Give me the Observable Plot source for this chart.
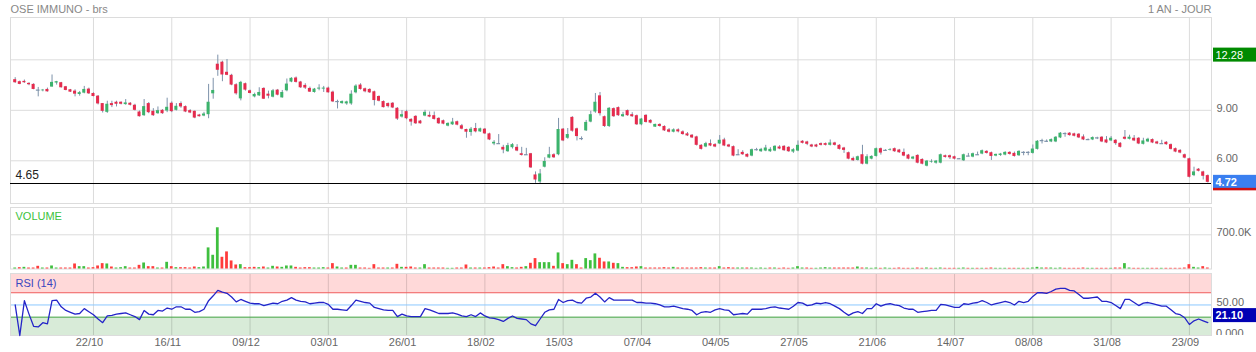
<!DOCTYPE html>
<html><head><meta charset="utf-8">
<script src="https://cdn.jsdelivr.net/npm/d3@7"></script>
<script src="https://cdn.jsdelivr.net/npm/@observablehq/plot@0.6"></script>
<style>
body{margin:0;background:#fff;}
#wrap{position:relative;width:1256px;height:352px;overflow:hidden;background:#fff;}
#wrap svg{position:absolute;left:0;}
</style></head><body><div id="wrap"></div>
<script>
// ---- data ----
const open = [10.82,10.70,10.72,10.60,10.54,10.20,10.16,10.24,10.38,10.62,10.64,10.40,10.22,10.14,9.94,10.02,10.26,10.00,9.84,9.40,8.88,9.40,9.48,9.48,9.34,9.42,9.30,8.90,8.68,9.40,8.94,8.80,9.00,8.96,9.42,9.00,9.40,9.22,8.98,8.94,8.72,8.66,8.74,9.98,11.74,11.86,11.26,11.08,10.52,9.68,10.58,10.16,9.80,9.86,10.30,9.96,9.78,10.20,9.74,10.16,10.68,10.92,10.68,10.48,10.30,10.06,10.26,10.26,10.32,10.08,9.50,9.40,9.38,9.38,10.04,10.50,10.28,10.24,10.10,9.82,9.52,9.40,9.42,9.12,8.60,8.92,8.46,8.64,8.36,8.66,8.70,8.68,8.52,8.38,8.06,8.14,8.32,8.08,7.86,7.68,7.92,7.72,7.88,7.60,7.00,7.02,6.80,6.54,6.78,6.80,6.42,6.36,6.42,5.16,4.74,5.62,6.16,6.36,6.36,7.88,7.34,8.58,7.90,7.30,7.78,8.30,8.90,9.86,8.62,8.04,9.10,9.16,8.62,8.98,8.74,8.68,8.14,8.70,8.40,8.00,8.16,8.04,7.84,7.70,7.84,7.72,7.60,7.52,7.42,6.92,6.82,7.02,6.96,7.00,7.24,6.94,6.84,6.36,6.50,6.38,6.28,6.66,6.54,6.58,6.54,6.58,6.82,6.86,6.80,6.52,6.58,7.16,7.12,6.94,6.94,7.02,7.02,6.92,7.06,6.92,6.76,6.48,6.14,6.02,6.36,5.80,6.10,6.26,6.72,6.60,6.62,6.72,6.64,6.50,6.34,6.10,6.32,6.08,5.68,5.92,5.86,5.86,6.30,6.30,6.24,6.12,6.00,6.28,6.22,6.36,6.40,6.56,6.48,6.28,6.32,6.34,6.50,6.44,6.30,6.50,6.50,6.44,6.68,7.20,7.16,7.12,7.12,7.36,7.62,7.64,7.60,7.58,7.42,7.26,7.24,7.36,7.40,7.24,7.18,7.22,7.04,7.40,7.28,7.34,7.34,6.98,7.12,7.26,7.12,7.02,7.10,6.96,6.72,6.62,6.36,6.12,5.12,5.50,5.34,5.12];
const high = [10.94,10.74,10.80,10.64,10.58,10.36,10.24,10.32,11.10,10.72,10.66,10.42,10.24,10.22,10.12,10.42,10.32,10.04,9.88,9.40,9.54,9.54,9.54,9.50,9.64,9.46,9.36,8.96,9.64,9.46,9.10,9.20,9.04,9.72,9.50,9.40,9.50,9.26,9.04,8.96,8.76,8.88,10.54,10.90,12.28,11.92,12.02,11.14,10.58,10.72,10.62,10.20,10.02,10.34,10.34,10.14,10.24,10.24,10.18,10.86,10.94,10.98,10.72,10.58,10.38,10.30,10.52,10.42,10.38,10.14,9.60,9.56,9.54,10.16,10.52,10.58,10.32,10.28,10.14,9.86,9.56,9.44,9.46,9.16,8.98,9.00,8.50,8.68,8.40,9.00,8.90,8.90,8.56,8.42,8.26,8.52,8.36,8.16,7.88,7.98,8.22,7.94,7.92,7.64,7.20,7.56,6.92,7.04,7.02,6.96,6.80,6.74,6.44,5.34,5.48,6.18,6.80,6.42,8.52,7.92,7.92,8.62,7.94,7.42,8.40,8.94,10.00,10.06,8.66,9.16,9.14,9.20,8.88,9.02,8.86,8.72,8.52,8.74,8.44,8.18,8.20,8.08,7.92,7.90,7.90,7.78,7.68,7.56,7.46,6.96,7.10,7.24,7.02,7.50,7.34,6.98,6.88,6.66,6.60,6.42,6.70,6.74,6.74,6.92,6.78,6.90,6.90,6.90,6.84,6.72,7.18,7.20,7.16,6.98,6.98,7.06,7.06,7.24,7.10,6.96,6.80,6.52,6.22,6.28,6.92,6.36,6.30,6.76,6.76,6.66,6.72,6.76,6.68,6.70,6.38,6.26,6.36,6.12,6.02,6.06,6.02,6.40,6.34,6.34,6.28,6.14,6.40,6.44,6.46,6.52,6.64,6.60,6.52,6.40,6.44,6.54,6.54,6.52,6.60,6.54,6.54,6.94,7.20,7.28,7.24,7.30,7.44,7.68,7.66,7.68,7.64,7.62,7.54,7.30,7.42,7.40,7.44,7.44,7.44,7.26,7.08,7.80,7.52,7.50,7.38,7.34,7.34,7.30,7.16,7.22,7.14,7.00,6.76,6.66,6.40,6.16,5.62,5.54,5.38,5.16];
const low = [10.60,10.52,10.60,10.46,10.22,9.80,10.10,10.08,10.38,10.50,10.32,10.16,10.06,9.80,9.84,9.98,9.94,9.80,9.32,8.84,8.82,9.16,9.20,9.32,9.30,9.26,8.96,8.60,8.64,8.80,8.64,8.76,8.76,8.86,8.86,8.96,9.12,8.86,8.80,8.50,8.60,8.62,8.50,9.66,11.02,10.70,11.06,10.46,9.90,9.56,10.14,9.98,9.74,9.82,9.64,9.68,9.74,9.86,9.72,10.10,10.64,10.62,10.30,10.24,10.06,10.02,10.16,10.06,10.02,9.46,9.08,9.36,9.30,9.30,9.98,10.20,10.04,10.00,9.26,9.50,9.14,9.14,9.10,8.40,8.54,8.44,8.06,8.16,8.18,8.62,8.56,8.42,8.16,8.14,8.02,8.10,8.08,7.84,7.34,7.46,7.66,7.68,7.56,7.20,6.90,6.98,6.42,6.50,6.70,6.54,6.28,6.32,5.54,4.66,4.65,5.58,6.12,6.14,6.30,7.14,7.28,7.70,7.18,7.20,7.74,8.26,8.82,8.66,7.98,7.98,8.58,8.64,8.58,8.64,8.58,8.10,8.08,8.24,8.20,7.98,8.00,7.74,7.66,7.66,7.66,7.52,7.44,7.32,6.88,6.64,6.78,6.84,6.78,6.96,6.84,6.78,6.24,6.32,6.32,6.18,6.24,6.58,6.50,6.54,6.50,6.54,6.66,6.56,6.50,6.44,6.54,7.00,6.90,6.78,6.78,6.88,6.88,6.88,6.88,6.64,6.44,6.06,5.96,5.98,5.76,5.76,6.06,6.22,6.34,6.56,6.58,6.50,6.44,6.24,6.06,6.06,5.82,5.76,5.64,5.86,5.80,5.82,6.16,6.08,6.06,6.08,5.96,6.24,6.18,6.32,6.36,6.40,6.02,6.24,6.26,6.30,6.34,6.22,6.26,6.30,6.30,6.40,6.64,7.00,7.10,7.08,7.08,7.32,7.40,7.46,7.42,7.32,7.20,7.20,7.20,7.26,7.08,7.02,7.14,6.92,6.76,7.24,7.24,7.14,6.96,6.94,7.08,7.02,6.96,6.98,6.92,6.64,6.48,6.42,6.12,4.98,5.06,5.34,4.86,4.68];
const close = [10.64,10.54,10.64,10.52,10.24,10.20,10.20,10.10,10.66,10.70,10.34,10.18,10.08,9.96,10.05,10.24,9.98,9.82,9.38,8.94,9.36,9.28,9.36,9.36,9.44,9.30,9.00,8.62,9.22,8.86,8.68,8.98,8.80,9.18,8.92,9.24,9.20,8.90,8.84,8.54,8.62,8.78,9.48,10.18,11.38,11.10,11.08,10.50,9.98,10.66,10.20,10.00,9.94,10.06,9.66,9.84,10.16,9.90,10.06,10.56,10.90,10.66,10.34,10.32,10.08,10.26,10.32,10.32,10.04,9.50,9.52,9.52,9.50,9.96,10.44,10.24,10.10,10.04,9.58,9.54,9.16,9.22,9.14,8.48,8.74,8.50,8.30,8.20,8.20,8.88,8.60,8.46,8.20,8.18,8.22,8.30,8.12,7.88,7.70,7.88,7.72,7.90,7.60,7.24,7.10,7.02,6.64,6.90,6.96,6.58,6.32,6.36,5.58,4.86,5.22,5.96,6.36,6.18,7.86,7.18,7.56,7.76,7.44,7.32,8.28,8.74,9.48,8.80,8.04,9.12,8.62,8.68,8.74,8.68,8.62,8.14,8.48,8.28,8.24,8.16,8.04,7.78,7.70,7.84,7.72,7.56,7.48,7.36,6.92,6.68,7.02,6.88,6.82,7.22,6.88,6.82,6.28,6.36,6.36,6.22,6.66,6.66,6.68,6.76,6.68,6.86,6.70,6.60,6.54,6.66,6.92,7.04,6.98,6.82,6.82,6.92,6.92,7.06,6.92,6.68,6.62,6.10,6.00,6.24,5.80,6.24,6.26,6.72,6.46,6.62,6.66,6.54,6.48,6.28,6.10,6.22,5.86,5.80,5.98,5.96,5.98,6.36,6.20,6.18,6.10,6.12,6.36,6.28,6.42,6.36,6.60,6.44,6.26,6.38,6.40,6.50,6.38,6.26,6.56,6.50,6.50,6.70,7.16,7.20,7.16,7.26,7.40,7.64,7.62,7.50,7.46,7.36,7.24,7.26,7.38,7.36,7.12,7.06,7.34,7.02,6.80,7.28,7.40,7.18,7.00,7.18,7.28,7.06,7.00,7.02,6.96,6.68,6.52,6.46,6.16,5.02,5.34,5.38,5.08,4.72];
const volumeK = [20,27,34,20,20,55,20,20,62,20, 20,20,20,103,48,48,20,27,62,110, 103,41,20,27,48,20,20,75,123,48, 48,20,20,137,48,27,27,27,20,41, 27,41,432,281,844,240,350,165,82,89, 27,27,34,27,41,20,55,41,34,62, 62,34,20,27,27,20,20,27,20,110, 41,20,20,75,75,20,20,14,89,20, 20,20,20,96,34,34,41,20,20,89, 20,20,20,20,14,14,20,20,82,20, 20,20,20,27,41,20,89,48,27,20, 34,48,117,213,130,130,130,55,329,110, 89,178,89,20,213,171,309,220,144,144, 117,110,34,27,27,41,48,20,20,20, 20,27,20,34,20,20,20,20,20,27, 20,20,20,48,20,27,20,20,20,20, 20,14,20,14,20,20,14,20,14,20, 48,20,20,14,14,20,27,20,20,20, 20,20,20,41,20,20,14,20,14,20, 14,14,20,14,14,14,20,14,20,14, 14,20,14,14,14,14,20,14,14,14, 14,14,20,14,14,14,14,14,14,14, 14,20,34,20,20,20,14,20,14,14, 14,14,20,14,14,14,14,14,14,20, 20,110,20,14,14,14,14,14,14,14, 14,14,14,14,20,89,34,20,48,20];
const rsi14 = [50,0,57,35,15,14,21,19,57,58, 47,41,38,35,36,44,39,34,27,21, 32,33,35,36,37,34,31,26,41,35, 34,41,40,45,43,47,47,43,43,38, 39,43,57,65,74,71,69,63,55,59, 56,53,52,52,49,51,53,52,56,58, 62,58,56,55,52,53,54,54,51,43, 43,42,41,49,58,56,54,53,46,44, 42,41,41,31,35,32,31,31,31,44, 42,39,36,36,36,37,35,32,31,34, 31,37,32,29,28,26,23,28,32,28, 27,26,19,16,27,38,42,43,59,54, 57,58,54,53,61,63,69,63,55,62, 58,58,58,58,58,54,54,53,53,52, 50,47,47,48,46,44,43,41,34,38, 39,38,42,44,42,41,34,35,36,35, 43,43,43,44,46,47,45,44,43,48, 54,53,49,50,53,52,54,52,48,44, 38,33,37,39,36,44,44,52,48,51, 52,50,49,45,43,43,38,39,40,41, 41,51,50,48,46,46,52,51,53,54, 57,54,50,52,54,56,54,50,56,54, 56,64,70,70,69,72,76,77,77,74, 73,67,61,61,62,63,56,56,54,49, 44,59,59,54,49,53,54,52,50,48, 48,42,36,34,29,18,24,27,24,21.1];
const tickIdx = [17,34,51,68,85,102,119,136,153,170,187,204,221,238,255];
const tickLabels = ["22/10","16/11","09/12","03/01","26/01","18/02","15/03","07/04","04/05","27/05","21/06","14/07","08/08","31/08","23/09"];
const priceTicks = [6, 9, 12];
const priceLabels = [6, 9];
const volTicksK = [700];
const rsiLevels = [30, 50, 70];
const title = "OSE IMMUNO - brs";
const period = "1 AN - JOUR";

// ---- build ----
const FONT = "'Liberation Sans', Arial, Helvetica, sans-serif";
const W = 1256, ML = 10, MR = 45;
const xDomain = [-1.02, 259.8];
const GRID = "#dcdcdc", WICK = "#7d92aa", UP = "#3cb36c", DOWN = "#e52b4d";
const VUP = "#3fbf3f", VDOWN = "#ff3b3b";
const style = {fontFamily: FONT, fontSize: "11px", background: "transparent", overflow: "visible"};

const candles = open.map((o, i) => ({i, o, h: high[i], l: low[i], c: close[i]}));
const bodies = candles.filter(d => Math.abs(d.c - d.o) >= 0.03);
const dojis = candles.filter(d => Math.abs(d.c - d.o) < 0.03);
const vols = volumeK.map((v, i) => ({i, v, up: i === 0 || close[i] >= close[i - 1]}));
const rsiData = rsi14.map((v, i) => ({i, v}));
const ticks = tickIdx.map((i, k) => ({i, label: tickLabels[k]}));
const maxHigh = d3.max(high), minLow = d3.min(low), lastClose = close[close.length - 1];
const lastRsi = rsi14[rsi14.length - 1];

const wrap = document.getElementById("wrap");

const priceP = Plot.plot({
  width: W, height: 205, marginTop: 17, marginBottom: 2, marginLeft: ML, marginRight: MR, style,
  x: {domain: xDomain, axis: null},
  y: {domain: [3.463, 14.515], axis: null},
  marks: [
    Plot.ruleX(tickIdx, {stroke: GRID}),
    Plot.ruleY(priceTicks, {stroke: GRID}),
    Plot.frame({stroke: GRID}),
    Plot.ruleY([minLow], {stroke: "#000", strokeWidth: 1.2}),
    Plot.ruleX(candles, {x: "i", y1: "l", y2: "h", stroke: WICK, strokeWidth: 1}),
    Plot.rect(bodies, {x1: d => d.i - 0.33, x2: d => d.i + 0.33, y1: "o", y2: "c",
      fill: d => d.c > d.o ? UP : DOWN}),
    Plot.ruleY(dojis, {y: "c", x1: d => d.i - 0.4, x2: d => d.i + 0.4, stroke: WICK, strokeWidth: 1.2}),
    Plot.text(priceLabels, {x: xDomain[1], y: d => d, text: d => d.toFixed(2), textAnchor: "start", dx: 5, dy: -2, fill: "#666", fontSize: 11}),
    Plot.text([minLow], {x: xDomain[0], y: d => d, text: d => d.toFixed(2), textAnchor: "start", dx: 5, dy: -8, fill: "#222", fontSize: 12}),
    Plot.text([title], {frameAnchor: "top-left", lineAnchor: "middle", dy: -8, textAnchor: "start", fill: "#888", fontSize: 11}),
    Plot.text([period], {frameAnchor: "top-right", lineAnchor: "middle", dy: -8, textAnchor: "end", fill: "#888", fontSize: 11})
  ]
});
priceP.style.top = "0px";
wrap.appendChild(priceP);

const volP = Plot.plot({
  width: W, height: 66, marginTop: 2, marginBottom: 2.5, marginLeft: ML, marginRight: MR, style,
  x: {domain: xDomain, axis: null},
  y: {domain: [0, 1259], axis: null},
  marks: [
    Plot.ruleX(tickIdx, {stroke: GRID}),
    Plot.ruleY(volTicksK, {stroke: GRID}),
    Plot.frame({stroke: GRID}),
    Plot.rect(vols, {x1: d => d.i - 0.3, x2: d => d.i + 0.3, y1: 0, y2: "v", fill: d => d.up ? VUP : VDOWN}),
    Plot.text(volTicksK, {x: xDomain[1], y: d => d, text: d => d.toFixed(1) + "K", textAnchor: "start", dx: 5, dy: -2, fill: "#666", fontSize: 11}),
    Plot.text(["VOLUME"], {frameAnchor: "top-left", lineAnchor: "middle", dx: 5, dy: 9, textAnchor: "start", fill: "#3cc23c", fontSize: 11})
  ]
});
volP.style.top = "205px";
wrap.appendChild(volP);

const rsiP = Plot.plot({
  width: W, height: 83, marginTop: 4, marginBottom: 17, marginLeft: ML, marginRight: MR, style,
  x: {domain: xDomain, axis: null},
  y: {domain: [0, 101.5], axis: null},
  marks: [
    Plot.rect([{a: 70, b: 101.5}], {y1: "a", y2: "b", fill: "#ffd9d9"}),
    Plot.rect([{a: 0, b: 30}], {y1: "a", y2: "b", fill: "#d8ebd8"}),
    Plot.ruleX(tickIdx, {stroke: "#000", strokeOpacity: 0.14}),
    Plot.ruleY([rsiLevels[2]], {stroke: "#f05858"}),
    Plot.ruleY([rsiLevels[1]], {stroke: "#8cc8ff"}),
    Plot.ruleY([rsiLevels[0]], {stroke: "#4aa64a"}),
    Plot.frame({stroke: GRID}),
    Plot.line(rsiData, {x: "i", y: "v", stroke: "#2424c8", strokeWidth: 1.3}),
    Plot.text([50], {x: xDomain[1], y: d => d, text: d => d.toFixed(2), textAnchor: "start", dx: 5, dy: -2.5, fill: "#666", fontSize: 11}),
    Plot.text(["RSI (14)"], {frameAnchor: "top-left", lineAnchor: "middle", dx: 5, dy: 9.7, textAnchor: "start", fill: "#3a46c0", fontSize: 11}),
    Plot.text(ticks, {x: "i", text: "label", frameAnchor: "bottom", lineAnchor: "middle", dy: 7, dx: -4, fill: "#666", fontSize: 11})
  ]
});
rsiP.style.top = "269px";
wrap.appendChild(rsiP);

// value badges positioned with the plots' own scales
function badge(svg, yPix, txt, bg, bold, underline) {
  const g = d3.select(svg).append("g").attr("text-anchor", "start");
  g.append("rect").attr("x", 1213).attr("y", yPix - 7).attr("width", 43).attr("height", 14).attr("fill", bg);
  if (underline) g.append("rect").attr("x", 1213).attr("y", yPix + 6).attr("width", 43).attr("height", 2.5).attr("fill", underline);
  g.append("text").attr("x", 1215.5).attr("y", yPix).attr("dy", "0.36em").attr("text-anchor", "start")
    .attr("fill", "#fff").attr("font-size", 11).attr("font-family", FONT)
    .attr("font-weight", bold ? "bold" : "normal").text(txt);
}
const py = priceP.scale("y"), ry = rsiP.scale("y");
badge(priceP, py.apply(maxHigh), maxHigh.toFixed(2), "#008a00", false, null);
badge(priceP, py.apply(lastClose), lastClose.toFixed(2), "#3a7ff0", true, "#d01010");

// clipped "0.000" label at the bottom of the RSI panel
const rs = d3.select(rsiP);
rs.append("clipPath").attr("id", "rsiclip").append("rect").attr("x", 0).attr("y", 0).attr("width", W).attr("height", 66);
rs.append("text").attr("clip-path", "url(#rsiclip)").attr("x", 1216).attr("y", ry.apply(0) - 2).attr("dy", "0.36em")
  .attr("text-anchor", "start")
  .attr("fill", "#666").attr("font-size", 11).attr("font-family", FONT).text((0).toFixed(3));
badge(rsiP, ry.apply(lastRsi) - 7, lastRsi.toFixed(2), "#0000b4", true, null);
</script></body></html>
